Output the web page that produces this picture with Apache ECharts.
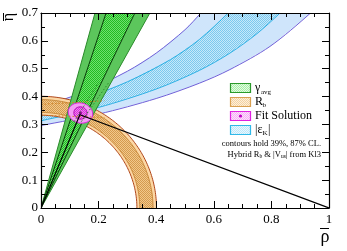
<!DOCTYPE html>
<html>
<head>
<meta charset="utf-8">
<script src="https://cdn.jsdelivr.net/npm/echarts@6/dist/echarts.min.js"></script>
<style>
html,body{margin:0;padding:0;background:#ffffff;}
#chart{width:347px;height:251px;}
</style>
</head>
<body>
<div id="chart"></div>
<script>
// ---------------- data ----------------
const xRange = [0, 1];
const yRange = [0, 0.7];
const xMajorStep = 0.2;
const yMajorStep = 0.1;

// gamma wedge (from origin): rho where each edge reaches eta = gammaEdgeEta
const gammaEdgeEta = 0.7;
const gammaOuterRho = [0.1875, 0.378];   // 87% CL
const gammaInnerRho = [0.226, 0.326];    // 39% CL

// Rb rings around the origin (radii)
const rbOuterRadii = [0.333, 0.401];
const rbInnerRadii = [0.343, 0.389];

// |eps_K| band edges, [rho, eta] (run past the frame on both ends)
const epsOuterUpper = [[-0.1,0.334],[-0.05,0.348],[0,0.363],[0.15,0.417],[0.3,0.491],[0.4,0.556],[0.5,0.640],[0.555,0.70],[0.6,0.755],[0.64,0.81]];
const epsInnerUpper = [[-0.1,0.322],[-0.05,0.334],[0,0.347],[0.15,0.393],[0.3,0.453],[0.45,0.533],[0.55,0.605],[0.65,0.70],[0.69,0.747],[0.73,0.80]];
const epsInnerLower = [[-0.1,0.294],[-0.05,0.303],[0,0.313],[0.2,0.361],[0.4,0.427],[0.55,0.494],[0.656,0.556],[0.75,0.626],[0.83,0.70],[0.87,0.744],[0.91,0.79]];
const epsOuterLower = [[-0.1,0.279],[-0.05,0.287],[0,0.296],[0.2,0.337],[0.4,0.393],[0.55,0.448],[0.656,0.497],[0.795,0.580],[0.936,0.70],[0.98,0.75],[1.02,0.80]];

// fit solution
const fitCenter = [0.137, 0.341];
const fitOuterAxes = [0.043, 0.036];
const fitInnerAxes = [0.023, 0.022];

// unitarity triangle
const triangleVertices = [[0,0],[0.135,0.335],[1,0]];

// dotted projection lines
const gammaDotted = [[[0.115,0.31],[0.2,0.45]], [[0.14,0.31],[0.235,0.45]]];
const rbDotted = [[[0,0.372],[0.22,0.385]], [[0,0.333],[0.22,0.325]]];

// legend texts
const legendMain = ['γ', 'R', 'Fit Solution', '|ε'];
const legendSub = ['avg', 'b', '', 'K'];
const noteLine1 = 'contours hold 39%, 87% CL.';
const noteLine2 = 'Hybrid R{s|b} & |V{s|us}| from Kl3';
const xTitle = 'ρ';
const yTitle = 'η';

// ---------------- styling helpers ----------------
const SERIF = '"Liberation Serif", "DejaVu Serif", serif';
function pattern(c1, c2) {
  const cv = document.createElement('canvas');
  cv.width = 2; cv.height = 2;
  const g = cv.getContext('2d');
  g.fillStyle = c2; g.fillRect(0, 0, 2, 2);
  g.fillStyle = c1; g.fillRect(0, 0, 1, 1); g.fillRect(1, 1, 1, 1);
  return { type: 'pattern', image: cv, repeat: 'repeat' };
}
const C = {
  gOutFill: '#5cc65c', gOutLine: '#2a8a2a',
  gInFill: pattern('#22bb22', '#6ee06e'), gInLine: '#0b3d0b',
  rOutFill: '#fcd7a4', rOutLine: '#b0461a',
  rInFill: pattern('#d49a50', '#f2c88a'), rInLine: '#c9893a',
  bOutFill: '#cfe5fb', bOutLine: '#6f5fd8',
  bInFill: pattern('#7cc8ee', '#c6e9fa'), bInLine: '#2ab0e4',
  mOutFill: '#f49cf4', mOutLine: '#e01ee0',
  mInFill: pattern('#d830d8', '#f080f0'), mInLine: '#b000b0'
};

function layer(z, build) {
  return {
    type: 'custom', z: z, clip: true, silent: true, animation: false,
    data: [[0, 0]],
    renderItem: function (params, api) { return { type: 'group', children: build(api) }; }
  };
}
function px(api, pts) { return pts.map(p => api.coord(p)); }

function ringPts(api, r1, r2) {
  const o = api.coord([0, 0]);
  const sx = api.size([1, 0])[0], sy = api.size([0, 1])[1];
  const outer = [], inner = [];
  for (let i = 0; i <= 96; i++) {
    const t = i / 96 * Math.PI * 0.53;
    outer.push([o[0] + r2 * sx * Math.cos(t), o[1] - r2 * sy * Math.sin(t)]);
    inner.push([o[0] + r1 * sx * Math.cos(t), o[1] - r1 * sy * Math.sin(t)]);
  }
  return { outer, inner, poly: outer.concat(inner.slice().reverse()) };
}
function ellipsePts(api, c, ax, rot) {
  const o = api.coord(c);
  const a = api.size([ax[0], 0])[0], b = api.size([0, ax[1]])[1];
  const pts = [];
  const cr = Math.cos(rot), sr = Math.sin(rot);
  for (let i = 0; i < 64; i++) {
    const t = i / 64 * Math.PI * 2;
    const x = a * Math.cos(t), y = b * Math.sin(t);
    pts.push([o[0] + x * cr - y * sr, o[1] + x * sr + y * cr]);
  }
  return pts;
}

const series = [
  // eps_K band
  layer(2, api => {
    const outer = px(api, epsOuterUpper.concat(epsOuterLower.slice().reverse()));
    const inner = px(api, epsInnerUpper.concat(epsInnerLower.slice().reverse()));
    return [
      { type: 'polygon', shape: { points: outer }, style: { fill: C.bOutFill, stroke: null } },
      { type: 'polygon', shape: { points: inner }, style: { fill: C.bInFill, stroke: null } },
      { type: 'polyline', shape: { points: px(api, epsInnerUpper), smooth: 0.3 }, style: { stroke: C.bInLine, lineWidth: 1, fill: null } },
      { type: 'polyline', shape: { points: px(api, epsInnerLower), smooth: 0.3 }, style: { stroke: C.bInLine, lineWidth: 1, fill: null } },
      { type: 'polyline', shape: { points: px(api, epsOuterUpper), smooth: 0.3 }, style: { stroke: C.bOutLine, lineWidth: 1, fill: null } },
      { type: 'polyline', shape: { points: px(api, epsOuterLower), smooth: 0.3 }, style: { stroke: C.bOutLine, lineWidth: 1, fill: null } }
    ];
  }),
  // Rb rings
  layer(3, api => {
    const ro = ringPts(api, rbOuterRadii[0], rbOuterRadii[1]);
    const ri = ringPts(api, rbInnerRadii[0], rbInnerRadii[1]);
    return [
      { type: 'polygon', shape: { points: ro.poly }, style: { fill: C.rOutFill, stroke: null } },
      { type: 'polygon', shape: { points: ri.poly }, style: { fill: C.rInFill, stroke: null } },
      { type: 'polyline', shape: { points: ri.outer }, style: { stroke: C.rInLine, lineWidth: 1, fill: null } },
      { type: 'polyline', shape: { points: ri.inner }, style: { stroke: C.rInLine, lineWidth: 1, fill: null } },
      { type: 'polyline', shape: { points: ro.outer }, style: { stroke: C.rOutLine, lineWidth: 1, fill: null } },
      { type: 'polyline', shape: { points: ro.inner }, style: { stroke: C.rOutLine, lineWidth: 1, fill: null } }
    ];
  }),
  // gamma wedge
  layer(4, api => {
    const o = api.coord([0, 0]);
    const oL = api.coord([gammaOuterRho[0], gammaEdgeEta]), oR = api.coord([gammaOuterRho[1], gammaEdgeEta]);
    const iL = api.coord([gammaInnerRho[0], gammaEdgeEta]), iR = api.coord([gammaInnerRho[1], gammaEdgeEta]);
    return [
      { type: 'polygon', shape: { points: [o, oL, oR] }, style: { fill: C.gOutFill, stroke: null } },
      { type: 'polygon', shape: { points: [o, iL, iR] }, style: { fill: C.gInFill, stroke: null } },
      { type: 'line', shape: { x1: o[0], y1: o[1], x2: oL[0], y2: oL[1] }, style: { stroke: C.gOutLine, lineWidth: 1 } },
      { type: 'line', shape: { x1: o[0], y1: o[1], x2: oR[0], y2: oR[1] }, style: { stroke: C.gOutLine, lineWidth: 1 } },
      { type: 'line', shape: { x1: o[0], y1: o[1], x2: iL[0], y2: iL[1] }, style: { stroke: C.gInLine, lineWidth: 1 } },
      { type: 'line', shape: { x1: o[0], y1: o[1], x2: iR[0], y2: iR[1] }, style: { stroke: C.gInLine, lineWidth: 1 } }
    ];
  }),
  // fit solution
  layer(5, api => {
    const c = api.coord(fitCenter);
    return [
      { type: 'polygon', shape: { points: ellipsePts(api, fitCenter, fitOuterAxes, 0.25) }, style: { fill: C.mOutFill, stroke: C.mOutLine, lineWidth: 1 } },
      { type: 'polygon', shape: { points: ellipsePts(api, fitCenter, fitInnerAxes, 0.25) }, style: { fill: C.mInFill, stroke: C.mInLine, lineWidth: 1 } },
      { type: 'circle', shape: { cx: c[0], cy: c[1], r: 1.5 }, style: { fill: '#8a008a' } }
    ];
  }),
  // dotted projection lines
  layer(6, api => {
    const out = [];
    gammaDotted.forEach(l => { const a = api.coord(l[0]), b = api.coord(l[1]);
      out.push({ type: 'line', shape: { x1: a[0], y1: a[1], x2: b[0], y2: b[1] }, style: { stroke: '#2a8a2a', lineWidth: 1, lineDash: [1.5, 2] } }); });
    rbDotted.forEach(l => { const a = api.coord(l[0]), b = api.coord(l[1]);
      out.push({ type: 'line', shape: { x1: a[0], y1: a[1], x2: b[0], y2: b[1] }, style: { stroke: '#d08020', lineWidth: 1, lineDash: [1.5, 2] } }); });
    return out;
  }),
  // triangle
  layer(7, api => [
    { type: 'polyline', shape: { points: px(api, triangleVertices) }, style: { stroke: '#000', lineWidth: 1.2, fill: null } }
  ])
];

function axisCommon(extra) {
  return Object.assign({
    type: 'value', z: 10,
    axisLine: { show: true, onZero: false, lineStyle: { color: '#000', width: 1.2 } },
    axisTick: { show: true, inside: true, length: 7, lineStyle: { color: '#000', width: 1 } },
    minorTick: { show: true, length: 4, lineStyle: { color: '#000', width: 1 } },
    splitLine: { show: false }, minorSplitLine: { show: false }
  }, extra);
}
const fmt = v => (v === 0 ? '0' : v === 1 ? '1' : v.toFixed(1));
const labelStyle = { color: '#000', fontFamily: SERIF, fontSize: 13 };

const legendGraphics = [];
const legendBoxes = [
  { fill: pattern('#a6eea6', '#e2fbe2'), stroke: '#2a9a2a' },
  { fill: pattern('#f3d2a0', '#fdefdb'), stroke: '#d9a050' },
  { fill: pattern('#f5aef5', '#fde0fd'), stroke: '#e020e0' },
  { fill: pattern('#bfe6f8', '#e8f8ff'), stroke: '#30b8e8' }
];
const legendY = [83, 97, 111, 125];
legendBoxes.forEach((b, i) => {
  legendGraphics.push({ type: 'rect', z: 100, shape: { x: 230.5, y: legendY[i] + 0.5, width: 20, height: 9 }, style: { fill: b.fill, stroke: b.stroke, lineWidth: 1.2 } });
  legendGraphics.push({ type: 'text', z: 100, style: { text: legendMain[i], x: 255, y: legendY[i] + 5, font: '12px ' + SERIF, fill: '#000', textAlign: 'left', textVerticalAlign: 'middle', align: 'left', verticalAlign: 'middle' } });
});
legendGraphics.push({ type: 'circle', z: 101, shape: { cx: 240.5, cy: legendY[2] + 5, r: 1.6 }, style: { fill: '#c000c0' } });
// subscripts
legendGraphics.push({ type: 'text', z: 100, style: { text: legendSub[0], x: 261, y: legendY[0] + 9, font: '7px ' + SERIF, fill: '#000', textAlign: 'left', textVerticalAlign: 'middle', align: 'left', verticalAlign: 'middle' } });
legendGraphics.push({ type: 'text', z: 100, style: { text: legendSub[1], x: 262.5, y: legendY[1] + 8, font: '7px ' + SERIF, fill: '#000', textAlign: 'left', textVerticalAlign: 'middle', align: 'left', verticalAlign: 'middle' } });
legendGraphics.push({ type: 'text', z: 100, style: { text: legendSub[3], x: 262.5, y: legendY[3] + 8, font: '7px ' + SERIF, fill: '#000', textAlign: 'left', textVerticalAlign: 'middle', align: 'left', verticalAlign: 'middle' } });
legendGraphics.push({ type: 'text', z: 100, style: { text: '|', x: 268, y: legendY[3] + 5, font: '12px ' + SERIF, fill: '#000', textAlign: 'left', textVerticalAlign: 'middle', align: 'left', verticalAlign: 'middle' } });
// notes
legendGraphics.push({ type: 'text', z: 100, style: { text: noteLine1, x: 321, y: 144, font: '8.5px ' + SERIF, fill: '#000', textAlign: 'right', textVerticalAlign: 'middle', align: 'right', verticalAlign: 'middle' } });
legendGraphics.push({ type: 'text', z: 100, style: { text: noteLine2, x: 321, y: 154.5, font: '8.5px ' + SERIF, fill: '#000', textAlign: 'right', textVerticalAlign: 'middle', align: 'right', verticalAlign: 'middle',
  rich: { s: { fontSize: 5.5, fontFamily: SERIF, padding: [4, 0, 0, 0] } } } });
// axis titles
legendGraphics.push({ type: 'text', z: 100, style: { text: xTitle, x: 325, y: 237, font: '18px ' + SERIF, fill: '#000', textAlign: 'center', textVerticalAlign: 'middle', align: 'center', verticalAlign: 'middle' } });
legendGraphics.push({ type: 'line', z: 100, shape: { x1: 320, y1: 228.5, x2: 329, y2: 228.5 }, style: { stroke: '#000', lineWidth: 1 } });
legendGraphics.push({ type: 'text', z: 100, x: 9, y: 17, rotation: Math.PI / 2, style: { text: yTitle, x: 0, y: 0, font: '16px ' + SERIF, fill: '#000', textAlign: 'center', textVerticalAlign: 'middle', align: 'center', verticalAlign: 'middle' } });
legendGraphics.push({ type: 'line', z: 100, shape: { x1: 3.5, y1: 13, x2: 3.5, y2: 21 }, style: { stroke: '#000', lineWidth: 1 } });

const chart = echarts.init(document.getElementById('chart'), null, { renderer: 'canvas' });
chart.setOption({
  animation: false,
  backgroundColor: '#ffffff',
  grid: { left: 41, right: 18, top: 13, bottom: 43, containLabel: false },
  xAxis: [
    axisCommon({ min: xRange[0], max: xRange[1], interval: xMajorStep, position: 'bottom', minorTick: { show: true, splitNumber: 4, length: 4, lineStyle: { color: '#000' } },
      axisLabel: Object.assign({ margin: 5, formatter: fmt }, labelStyle) }),
    axisCommon({ min: xRange[0], max: xRange[1], interval: xMajorStep, position: 'top', minorTick: { show: true, splitNumber: 4, length: 4, lineStyle: { color: '#000' } },
      axisLabel: { show: false } })
  ],
  yAxis: [
    axisCommon({ min: yRange[0], max: yRange[1], interval: yMajorStep, position: 'left', minorTick: { show: true, splitNumber: 2, length: 4, lineStyle: { color: '#000' } },
      axisLabel: Object.assign({ margin: 3, formatter: fmt }, labelStyle) }),
    axisCommon({ min: yRange[0], max: yRange[1], interval: yMajorStep, position: 'right', minorTick: { show: true, splitNumber: 2, length: 4, lineStyle: { color: '#000' } },
      axisLabel: { show: false } })
  ],
  series: series,
  graphic: legendGraphics
});
</script>
</body>
</html>
